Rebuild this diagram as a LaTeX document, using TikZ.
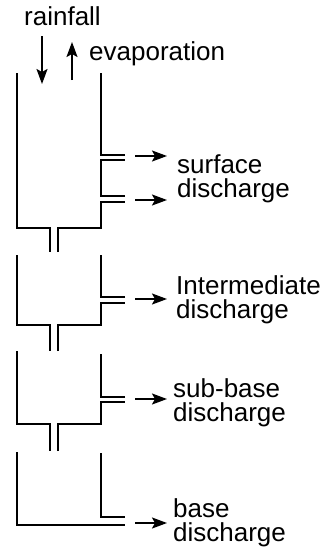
\documentclass[tikz,border=0pt]{standalone}
\usepackage{fontspec}
\setmainfont{Liberation Sans}
\usetikzlibrary{arrows.meta}
\begin{document}
\begin{tikzpicture}[x=1pt,y=-1pt,
  wall/.style={line width=2pt,line cap=butt,line join=miter},
  flow/.style={line width=1.9pt,-{Stealth[length=15pt,width=11pt,inset=3pt]}},
  lbl/.style={anchor=base west,inner sep=0pt,font=\fontsize{26}{24}\selectfont}]
\useasboundingbox (0,0) rectangle (326,550);
% labels
\node[lbl] (rain) at (24,25) {rainfall};
\node[lbl] (evap) at (89,60) {evaporation};
\node[lbl] (s1) at (177,173) {surface};
\node[lbl] (s2) at (177,197) {discharge};
\node[lbl] (i1) at (176,294) {Intermediate};
\node[lbl] (i2) at (176,318) {discharge};
\node[lbl] (b1) at (173,397) {sub-base};
\node[lbl] (b2) at (173,421) {discharge};
\node[lbl] (c1) at (173,517) {base};
\node[lbl] (c2) at (173,541) {discharge};
% rainfall / evaporation arrows
\coordinate (ra) at (42,36); \coordinate (rb) at (42,84);
\coordinate (ea) at (72,80); \coordinate (eb) at (72,42);
\draw[flow] (ra) -- (rb);
\draw[flow] (ea) -- (eb);
% tank 1
\draw[wall] (17,73) -- (17,228) -- (50,228) -- (50,252);
\draw[wall] (58,252) -- (58,228) -- (101,228) -- (101,201.5) -- (125,201.5);
\draw[wall] (125,196) -- (101,196) -- (101,159.5) -- (125,159.5);
\draw[wall] (125,155) -- (101,155) -- (101,73);
\coordinate (o1a) at (135,156); \coordinate (o1b) at (167,156);
\coordinate (o2a) at (135,200); \coordinate (o2b) at (167,200);
\draw[flow] (o1a) -- (o1b);
\draw[flow] (o2a) -- (o2b);
% tank 2
\draw[wall] (17,255) -- (17,325) -- (50,325) -- (50,351);
\draw[wall] (58,351) -- (58,325) -- (101,325) -- (101,302.5) -- (125,302.5);
\draw[wall] (125,297) -- (101,297) -- (101,255);
\coordinate (o3a) at (135,299); \coordinate (o3b) at (167,299);
\draw[flow] (o3a) -- (o3b);
% tank 3
\draw[wall] (17,351) -- (17,424) -- (50,424) -- (50,451);
\draw[wall] (58,451) -- (58,424) -- (101,424) -- (101,401.5) -- (125,401.5);
\draw[wall] (125,397) -- (101,397) -- (101,354);
\coordinate (o4a) at (135,399); \coordinate (o4b) at (167,399);
\draw[flow] (o4a) -- (o4b);
% tank 4
\draw[wall] (17,452) -- (17,525) -- (125,525);
\draw[wall] (101,453) -- (101,517) -- (125,517);
\coordinate (o5a) at (135,523); \coordinate (o5b) at (167,523);
\draw[flow] (o5a) -- (o5b);
\end{tikzpicture}
\end{document}
